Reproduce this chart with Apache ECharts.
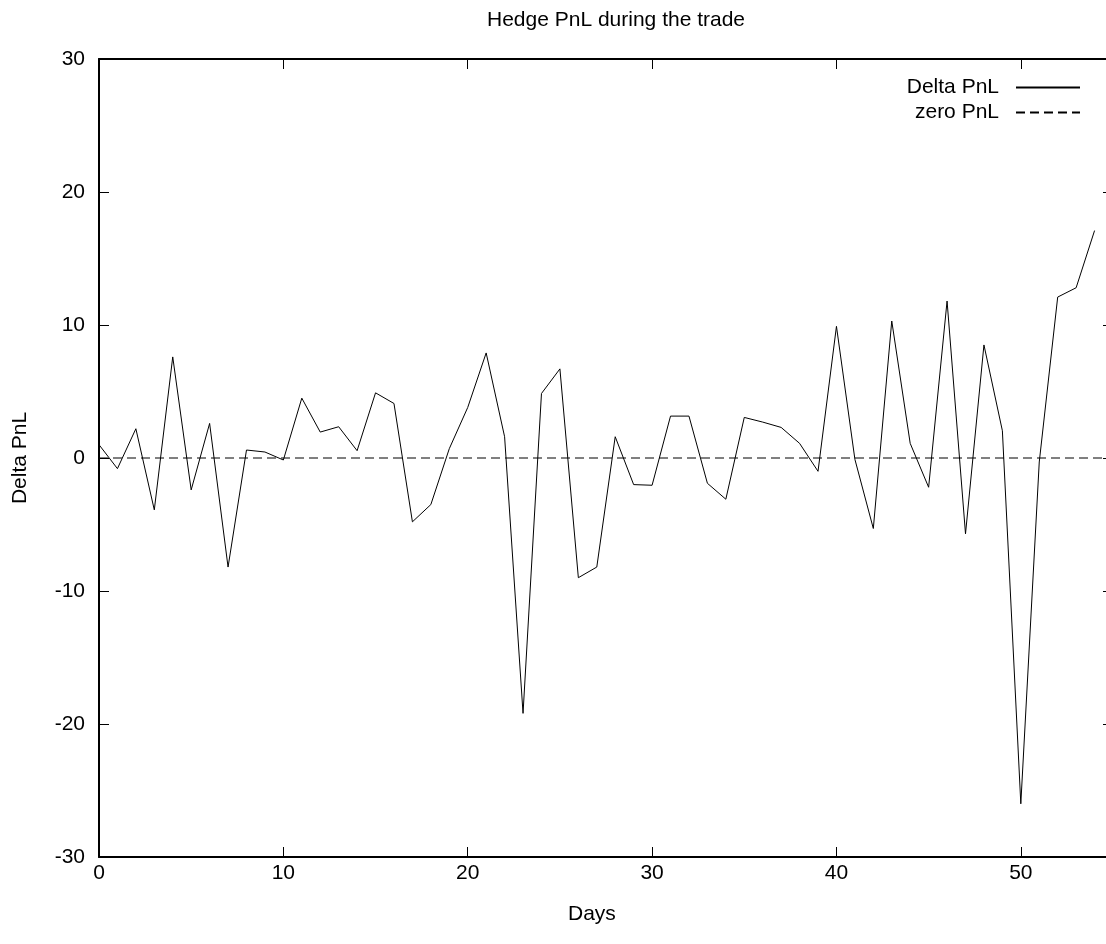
<!DOCTYPE html>
<html>
<head>
<meta charset="utf-8">
<script src="https://cdn.jsdelivr.net/npm/echarts@6/dist/echarts.min.js"></script>
<style>
html,body{margin:0;padding:0;background:#fff;overflow:hidden;width:1106px;height:944px;}
#c{width:1120px;height:944px;}
</style>
</head>
<body>
<div id="c"></div>
<script>
var titleText = "Hedge PnL during the trade";
var xName = "Days";
var yName = "Delta PnL";
var seriesNames = ["Delta PnL", "zero PnL"];
var days = [0,1,2,3,4,5,6,7,8,9,10,11,12,13,14,15,16,17,18,19,20,21,22,23,24,25,26,27,28,29,30,31,32,33,34,35,36,37,38,39,40,41,42,43,44,45,46,47,48,49,50,51,52,53,54];
var deltaPnL = [1.0,-0.8,2.2,-3.9,7.6,-2.4,2.6,-8.2,0.6,0.45,-0.15,4.5,1.95,2.35,0.55,4.9,4.1,-4.8,-3.5,0.7,3.8,7.9,1.6,-19.2,4.85,6.7,-9.0,-8.2,1.6,-2.0,-2.05,3.15,3.15,-1.9,-3.1,3.05,2.7,2.3,1.1,-1.0,9.9,-0.1,-5.3,10.3,1.1,-2.2,11.8,-5.7,8.5,2.05,-26.0,-0.3,12.1,12.8,17.1];
var zeroX = [0, 55];
var zeroY = [0, 0];
var xMin = 0, xMax = 55, xStep = 10;
var yMin = -30, yMax = 30, yStep = 10;

var font = "Liberation Sans, Arial, sans-serif";
var fs = 21;
var chart = echarts.init(document.getElementById('c'));
function axisCommon() {
  return {
    axisLine: {show: true, onZero: false, lineStyle: {color: '#000', width: 2}},
    axisTick: {show: true, inside: true, length: 10, lineStyle: {color: '#000', width: 1}},
    splitLine: {show: false}
  };
}
chart.setOption({
  animation: false,
  backgroundColor: '#fff',
  title: [
    {text: titleText, left: 482, top: 5, textStyle: {fontFamily: font, fontSize: fs, fontWeight: 'normal', color: '#000'}},
    {text: xName, left: 563, top: 899, textStyle: {fontFamily: font, fontSize: fs, fontWeight: 'normal', color: '#000'}}
  ],
  legend: {
    orient: 'vertical', right: 34, top: 72, align: 'right',
    itemWidth: 64, itemHeight: 14, itemGap: 4,
    itemStyle: {opacity: 0},
    textStyle: {fontFamily: font, fontSize: fs, color: '#000', padding: [0, 12, 0, 0]},
    data: seriesNames
  },
  grid: {left: 99, top: 59, right: 7, bottom: 87, containLabel: false},
  xAxis: [
    Object.assign({type: 'value', position: 'bottom', min: xMin, max: xMax, interval: xStep,
      axisLabel: {show: true, color: '#000', fontFamily: font, fontSize: fs, margin: 6, showMaxLabel: false}}, axisCommon()),
    Object.assign({type: 'value', position: 'top', min: xMin, max: xMax, interval: xStep,
      axisLabel: {show: false}}, axisCommon())
  ],
  yAxis: [
    Object.assign({type: 'value', position: 'left', min: yMin, max: yMax, interval: yStep,
      name: yName, nameLocation: 'middle', nameGap: 68, nameRotate: 90,
      nameTextStyle: {fontFamily: font, fontSize: fs, color: '#000'},
      axisLabel: {show: true, color: '#000', fontFamily: font, fontSize: fs, margin: 14}}, axisCommon()),
    Object.assign({type: 'value', position: 'right', min: yMin, max: yMax, interval: yStep,
      axisLabel: {show: false}}, axisCommon())
  ],
  series: [
    {name: seriesNames[0], type: 'line', symbol: 'none', xAxisIndex: 0, yAxisIndex: 0,
      data: days.map(function(d, i){ return [d, deltaPnL[i]]; }),
      lineStyle: {color: '#000', width: 1}, itemStyle: {color: '#000'}},
    {name: seriesNames[1], type: 'line', symbol: 'none', xAxisIndex: 0, yAxisIndex: 0,
      data: zeroX.map(function(d, i){ return [d, zeroY[i]]; }),
      lineStyle: {color: '#000', width: 1, type: [9, 5]}, itemStyle: {color: '#000'}}
  ]
});
</script>
</body>
</html>
